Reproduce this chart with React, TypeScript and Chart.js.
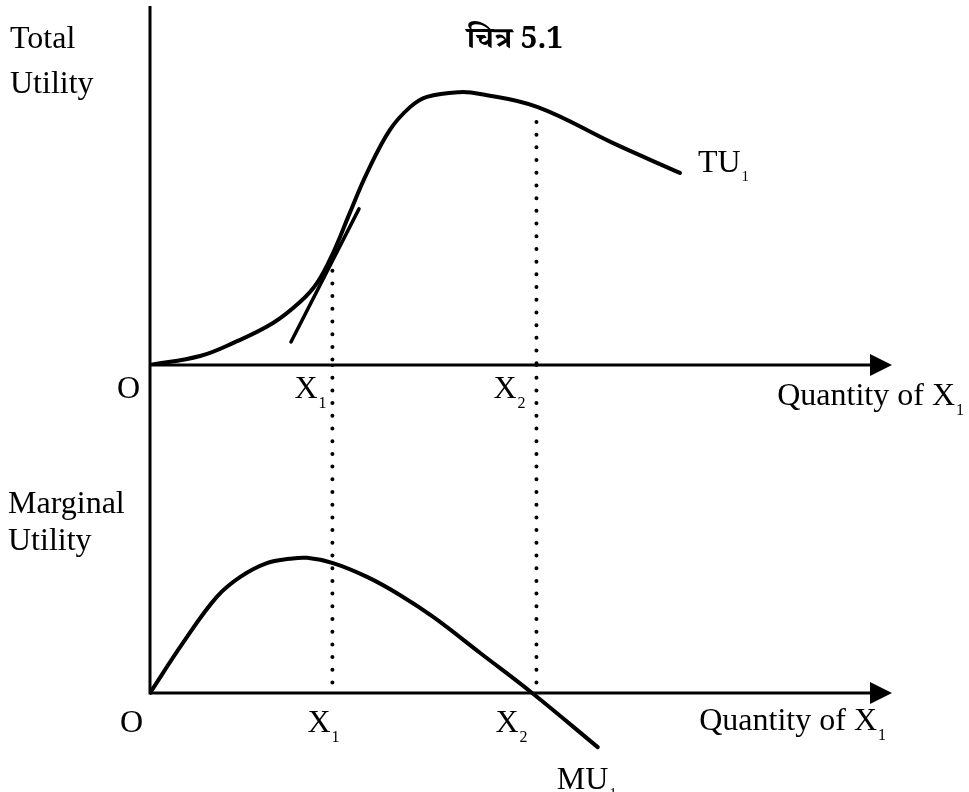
import React, { useEffect, useRef } from "react";
import { Chart, registerables } from "chart.js";

Chart.register(...registerables);

// ---- Data ----
const tuQuantity = [0, 0.81, 1.34, 1.99, 2.43, 2.7, 2.96, 3.23, 3.51, 3.88, 4.21, 4.48, 5.01, 5.34, 6.26, 7.49, 8.57];
const totalUtility = [0, 0.25, 0.61, 1.17, 1.76, 2.28, 3.12, 4.23, 5.35, 6.55, 7.19, 7.47, 7.6, 7.55, 7.19, 6.18, 5.35];

const muQuantity = [0, 0.53, 1.08, 1.46, 1.89, 2.26, 2.54, 2.96, 3.51, 4.04, 4.58, 5.34, 6.18, 7.24];
const marginalUtility = [0, 1.52, 2.93, 3.54, 3.96, 4.09, 4.12, 3.96, 3.54, 2.99, 2.32, 1.22, 0, -1.65];

const tangentQuantity = [2.28, 3.38];
const tangentUtility = [0.64, 4.35];

const markQuantities = [2.95, 6.25]; // X1, X2
const markLabels = ["1", "2"]; // subscripts of X
const dropTopTU = [2.98, 6.77];
const dropBottomMU = [0.1, 0.3];

const xMax = 12;
const tuRange = [0, 10];
const muRange = [-2, 10];

const titleText = "चित्र 5.1";
const tuAxisTitle = ["Total", "Utility"];
const muAxisTitle = ["Marginal", "Utility"];
const quantityTitle = "Quantity of X";
const originLabel = "O";
const tuCurveLabel = "TU";
const muCurveLabel = "MU";

const SERIF = '"Liberation Serif", "Times New Roman", serif';
const DEVA = '"Noto Serif Devanagari", "Noto Sans Devanagari", "Lohit Devanagari", "Liberation Serif", serif';
const FS = 32;

function zip(xs: number[], ys: number[]) {
  return xs.map((x, i) => ({ x, y: ys[i] }));
}

function subText(
  ctx: CanvasRenderingContext2D,
  main: string,
  sub: string,
  x: number,
  y: number,
  align: "left" | "right" = "left",
  size = FS,
  subSize = 16,
  subDrop = 10
) {
  ctx.font = `${size}px ${SERIF}`;
  const w = ctx.measureText(main).width;
  const left = align === "left" ? x : x - w;
  ctx.textAlign = "left";
  ctx.fillText(main, left, y);
  ctx.font = `${subSize}px ${SERIF}`;
  ctx.fillText(sub, left + w + 1, y + subDrop);
}

const decorPlugin = {
  id: "decor",
  beforeDatasetsDraw(chart: any) {
    const { ctx, scales, chartArea } = chart;
    const x0 = scales.x.getPixelForValue(0);
    const xEnd = scales.x.getPixelForValue(xMax);
    const tz = scales.yTU.getPixelForValue(0);
    const mz = scales.yMU.getPixelForValue(0);
    ctx.save();
    ctx.strokeStyle = "#000";
    ctx.fillStyle = "#000";
    ctx.lineWidth = 3;
    ctx.beginPath();
    ctx.moveTo(x0, chartArea.top);
    ctx.lineTo(x0, mz + 1.5);
    ctx.stroke();
    for (const yy of [tz, mz]) {
      ctx.beginPath();
      ctx.moveTo(x0, yy);
      ctx.lineTo(xEnd - 18, yy);
      ctx.stroke();
      ctx.beginPath();
      ctx.moveTo(xEnd - 22, yy - 11);
      ctx.lineTo(xEnd, yy);
      ctx.lineTo(xEnd - 22, yy + 11);
      ctx.closePath();
      ctx.fill();
    }
    ctx.restore();
  },
  afterDatasetsDraw(chart: any) {
    const { ctx, scales, chartArea } = chart;
    const x0 = scales.x.getPixelForValue(0);
    const xEnd = scales.x.getPixelForValue(xMax);
    const tz = scales.yTU.getPixelForValue(0);
    const mz = scales.yMU.getPixelForValue(0);
    ctx.save();
    ctx.fillStyle = "#000";
    ctx.textBaseline = "alphabetic";

    // title
    ctx.font = `bold 30px ${DEVA}`;
    ctx.textAlign = "left";
    ctx.fillText(titleText, 467, chartArea.top + 42);

    // axis titles
    ctx.font = `${FS}px ${SERIF}`;
    ctx.fillText(tuAxisTitle[0], 10, chartArea.top + 42);
    ctx.fillText(tuAxisTitle[1], 10, chartArea.top + 87);
    ctx.fillText(muAxisTitle[0], 8, tz + 148);
    ctx.fillText(muAxisTitle[1], 8, tz + 185);

    // origins
    ctx.textAlign = "right";
    ctx.fillText(originLabel, x0 - 10, tz + 33);
    ctx.fillText(originLabel, x0 - 7, mz + 39);

    // X1, X2 ticks
    const topOffsets = [-38, -43];
    const botOffsets = [-25, -41];
    markQuantities.forEach((q, i) => {
      const px = scales.x.getPixelForValue(q);
      subText(ctx, "X", markLabels[i], px + topOffsets[i], tz + 33);
      subText(ctx, "X", markLabels[i], px + botOffsets[i], mz + 39);
    });

    // quantity axis titles
    subText(ctx, quantityTitle, "1", xEnd + 63, tz + 40, "right");
    subText(ctx, quantityTitle, "1", xEnd - 15, mz + 37, "right");

    // curve labels
    const tuLast = tuQuantity.length - 1;
    const tuPx = scales.x.getPixelForValue(tuQuantity[tuLast]);
    const tuPy = scales.yTU.getPixelForValue(totalUtility[tuLast]);
    subText(ctx, tuCurveLabel, "1", tuPx + 18, tuPy - 1, "left", FS, 15, 9);
    const muLast = muQuantity.length - 1;
    const muPx = scales.x.getPixelForValue(muQuantity[muLast]);
    const muPy = scales.yMU.getPixelForValue(marginalUtility[muLast]);
    subText(ctx, muCurveLabel, "1", muPx - 41, muPy + 42, "left", FS, 15, 9);
    ctx.restore();
  },
};

export default function App() {
  const ref = useRef<HTMLCanvasElement | null>(null);

  useEffect(() => {
    if (!ref.current) return;
    const dotted = {
      borderColor: "#000",
      borderWidth: 4,
      borderDash: [0, 12.7],
      borderCapStyle: "round" as const,
      pointRadius: 0,
      tension: 0,
      fill: false,
    };
    const dropSets: any[] = [];
    markQuantities.forEach((q, i) => {
      dropSets.push({
        ...dotted,
        label: `drop-top-${i}`,
        yAxisID: "yTU",
        data: [
          { x: q, y: dropTopTU[i] },
          { x: q, y: 0 },
        ],
      });
      dropSets.push({
        ...dotted,
        label: `drop-bottom-${i}`,
        yAxisID: "yMU",
        data: [
          { x: q, y: muRange[1] },
          { x: q, y: dropBottomMU[i] },
        ],
      });
    });

    const chart = new Chart(ref.current, {
      type: "line",
      data: {
        datasets: [
          {
            label: "TU",
            yAxisID: "yTU",
            data: zip(tuQuantity, totalUtility),
            borderColor: "#000",
            borderWidth: 4,
            pointRadius: 0,
            tension: 0.4,
            borderCapStyle: "round",
            borderJoinStyle: "round",
            fill: false,
          },
          {
            label: "Tangent",
            yAxisID: "yTU",
            data: zip(tangentQuantity, tangentUtility),
            borderColor: "#000",
            borderWidth: 3.5,
            pointRadius: 0,
            tension: 0,
            borderCapStyle: "round",
            fill: false,
          },
          {
            label: "MU",
            yAxisID: "yMU",
            data: zip(muQuantity, marginalUtility),
            borderColor: "#000",
            borderWidth: 4,
            pointRadius: 0,
            tension: 0.4,
            borderCapStyle: "round",
            borderJoinStyle: "round",
            fill: false,
          },
          ...dropSets,
        ],
      },
      options: {
        animation: false,
        responsive: false,
        maintainAspectRatio: false,
        devicePixelRatio: 1,
        layout: { padding: { left: 150, right: 77, top: 6, bottom: 33.4 } },
        plugins: {
          legend: { display: false },
          title: { display: false },
          tooltip: { enabled: false },
        },
        events: [],
        scales: {
          x: { type: "linear", min: 0, max: xMax, display: false },
          yTU: {
            type: "linear",
            min: tuRange[0],
            max: tuRange[1],
            display: false,
            position: "left",
            stack: "panels",
            stackWeight: 359,
            weight: 2,
          },
          yMU: {
            type: "linear",
            min: muRange[0],
            max: muRange[1],
            display: false,
            position: "left",
            stack: "panels",
            stackWeight: 393.6,
            weight: 1,
          },
        },
      } as any,
      plugins: [decorPlugin],
    });
    return () => chart.destroy();
  }, []);

  return (
    <div style={{ position: "fixed", left: 0, top: 0, width: 969, height: 792, background: "#fff" }}>
      <canvas ref={ref} width={969} height={792} style={{ display: "block", width: 969, height: 792 }} />
    </div>
  );
}
